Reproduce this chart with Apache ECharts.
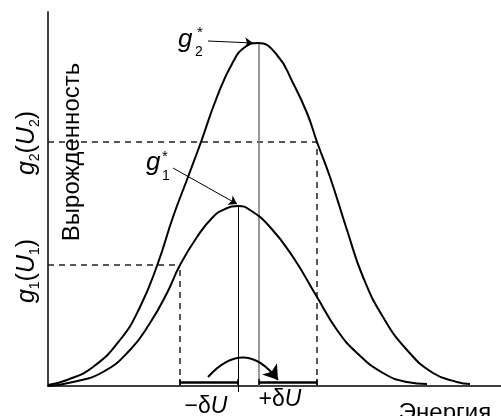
<!DOCTYPE html>
<html><head><meta charset="utf-8">
<script src="https://cdn.jsdelivr.net/npm/echarts@6/dist/echarts.min.js"></script>
<style>html,body{margin:0;padding:0;background:#fff}#c{width:501px;height:416px}</style>
</head><body><div id="c"></div>
<script>
// Curve g2 (upper) — energy vs degeneracy
const g2X = [0,19,45,72,92,110,125,140,153,169,185,197,210,229,245,259,269,282,299,315,335,359,385,409,422];
const g2Y = [1,6,19,46,79,123,169,209,244,289,324,339,343,331,303,273,244,209,156,109,69,36,13,4,2];
// Curve g1 (lower)
const g1X = [0,25,55,82,102,119,132,149,165,177,190,202,222,245,269,289,309,335,359,379];
const g1Y = [0,4,14,36,63,93,121,149,169,177,180,176,159,129,89,56,33,13,4,2];
// reference levels
const g1Level = 121, g2Level = 244;
const uMinus = 132, uPeak1 = 190, uPeak2 = 211, uPlus = 269, g2Peak = 343, g1Peak = 180;

const FONT = 'Liberation Sans, Arial, sans-serif';
const chart = echarts.init(document.getElementById('c'), null, {renderer:'canvas'});

const toPairs = (xs, ys) => xs.map((x,i)=>[x, ys[i]]);
const seg = (a,b,style) => ({coords:[a,b], lineStyle:Object.assign({opacity:1}, style)});
const dashed = {color:'#222', width:1.5, type:[6,5]};
const barStyle = {color:'#000', width:2.5, type:'solid'};
const tickStyle = {color:'#000', width:1.5, type:'solid'};

chart.setOption({
  animation:false,
  grid:{left:48, right:0, top:12, bottom:30},
  xAxis:{type:'value', min:0, max:453, axisLine:{lineStyle:{color:'#000', width:1.5}}, axisTick:{show:false}, axisLabel:{show:false}, splitLine:{show:false}},
  yAxis:{type:'value', min:0, max:374, axisLine:{show:true, lineStyle:{color:'#404040', width:2}}, axisTick:{show:false}, axisLabel:{show:false}, splitLine:{show:false}},
  series:[
    {type:'line', data:toPairs(g2X,g2Y), smooth:0.5, showSymbol:false, lineStyle:{color:'#000', width:2}, clip:false, z:5},
    {type:'line', data:toPairs(g1X,g1Y), smooth:0.5, showSymbol:false, lineStyle:{color:'#000', width:2}, clip:false, z:5},
    {type:'lines', coordinateSystem:'cartesian2d', clip:false, symbol:'none', z:3,
      lineStyle:{opacity:1},
      data:[
        seg([0,g2Level],[uPlus,g2Level],dashed),
        seg([uPlus,0],[uPlus,g2Level],dashed),
        seg([0,g1Level],[uMinus,g1Level],dashed),
        seg([uMinus,0],[uMinus,g1Level],dashed),
        seg([uPeak1,-6],[uPeak1,g1Peak],{color:'#000', width:1, type:'solid'}),
        seg([uPeak2,0],[uPeak2,g2Peak],{color:'#777', width:1.5, type:'solid'}),
        seg([uMinus,4],[uPeak1,4],barStyle),
        seg([uPeak2,4],[uPlus,4],barStyle),
        seg([uMinus,1],[uMinus,7],tickStyle),
        seg([uPeak1,1],[uPeak1,7],tickStyle),
        seg([uPeak2,1],[uPeak2,7],tickStyle),
        seg([uPlus,1],[uPlus,7],tickStyle)
      ]},
    {type:'lines', coordinateSystem:'cartesian2d', clip:false, symbol:['none','arrow'], symbolSize:14, z:6,
      lineStyle:{color:'#000', width:2, curveness:0.6, opacity:1},
      data:[{coords:[[160,9],[230,6]]}]},
    {type:'lines', coordinateSystem:'cartesian2d', clip:false, symbol:['none','arrow'], symbolSize:8, z:6,
      lineStyle:{color:'#000', width:1, curveness:0, opacity:1},
      data:[{coords:[[160,345],[205,343]]},{coords:[[125,218],[189,182]]}]}
  ],
  graphic:[
    {type:'text', x:27, y:143, rotation:Math.PI/2, style:{text:'{i|g}{s|2}{n|(}{i|U}{s|2}{n|)}', align:'center', verticalAlign:'middle',
      rich:{i:{fontFamily:FONT, fontStyle:'italic', fontSize:25, fill:'#000', lineHeight:30},
            n:{fontFamily:FONT, fontSize:25, fill:'#000', lineHeight:30},
            s:{fontFamily:FONT, fontSize:14, fill:'#000', verticalAlign:'bottom', lineHeight:30}}}},
    {type:'text', x:27, y:271, rotation:Math.PI/2, style:{text:'{i|g}{s|1}{n|(}{i|U}{s|1}{n|)}', align:'center', verticalAlign:'middle',
      rich:{i:{fontFamily:FONT, fontStyle:'italic', fontSize:25, fill:'#000', lineHeight:30},
            n:{fontFamily:FONT, fontSize:25, fill:'#000', lineHeight:30},
            s:{fontFamily:FONT, fontSize:14, fill:'#000', verticalAlign:'bottom', lineHeight:30}}}},
    {type:'text', x:72, y:152, rotation:Math.PI/2, style:{text:'Вырожденность', align:'center', verticalAlign:'middle', fontFamily:FONT, fontSize:24, fill:'#000'}},
    {type:'text', x:445, y:413, style:{text:'Энергия', align:'center', verticalAlign:'middle', fontFamily:FONT, fontSize:24, fill:'#000'}},
    {type:'text', x:206, y:407, style:{text:'{n|−δ}{i|U}', align:'center', verticalAlign:'middle',
      rich:{n:{fontFamily:FONT, fontSize:23, fill:'#000'}, i:{fontFamily:FONT, fontStyle:'italic', fontSize:23, fill:'#000'}}}},
    {type:'text', x:280, y:400, style:{text:'{n|+δ}{i|U}', align:'center', verticalAlign:'middle',
      rich:{n:{fontFamily:FONT, fontSize:23, fill:'#000'}, i:{fontFamily:FONT, fontStyle:'italic', fontSize:23, fill:'#000'}}}},
    {type:'text', x:178, y:40, style:{text:'g', align:'left', verticalAlign:'middle', fontFamily:FONT, fontStyle:'italic', fontSize:26, fill:'#000'}},
    {type:'text', x:195, y:52, style:{text:'2', align:'left', verticalAlign:'middle', fontFamily:FONT, fontSize:14, fill:'#000'}},
    {type:'text', x:197, y:33, style:{text:'*', align:'left', verticalAlign:'middle', fontFamily:FONT, fontSize:15, fill:'#000'}},
    {type:'text', x:146, y:163, style:{text:'g', align:'left', verticalAlign:'middle', fontFamily:FONT, fontStyle:'italic', fontSize:26, fill:'#000'}},
    {type:'text', x:162, y:176, style:{text:'1', align:'left', verticalAlign:'middle', fontFamily:FONT, fontSize:14, fill:'#000'}},
    {type:'text', x:162, y:157, style:{text:'*', align:'left', verticalAlign:'middle', fontFamily:FONT, fontSize:15, fill:'#000'}}
  ]
});
</script></body></html>
